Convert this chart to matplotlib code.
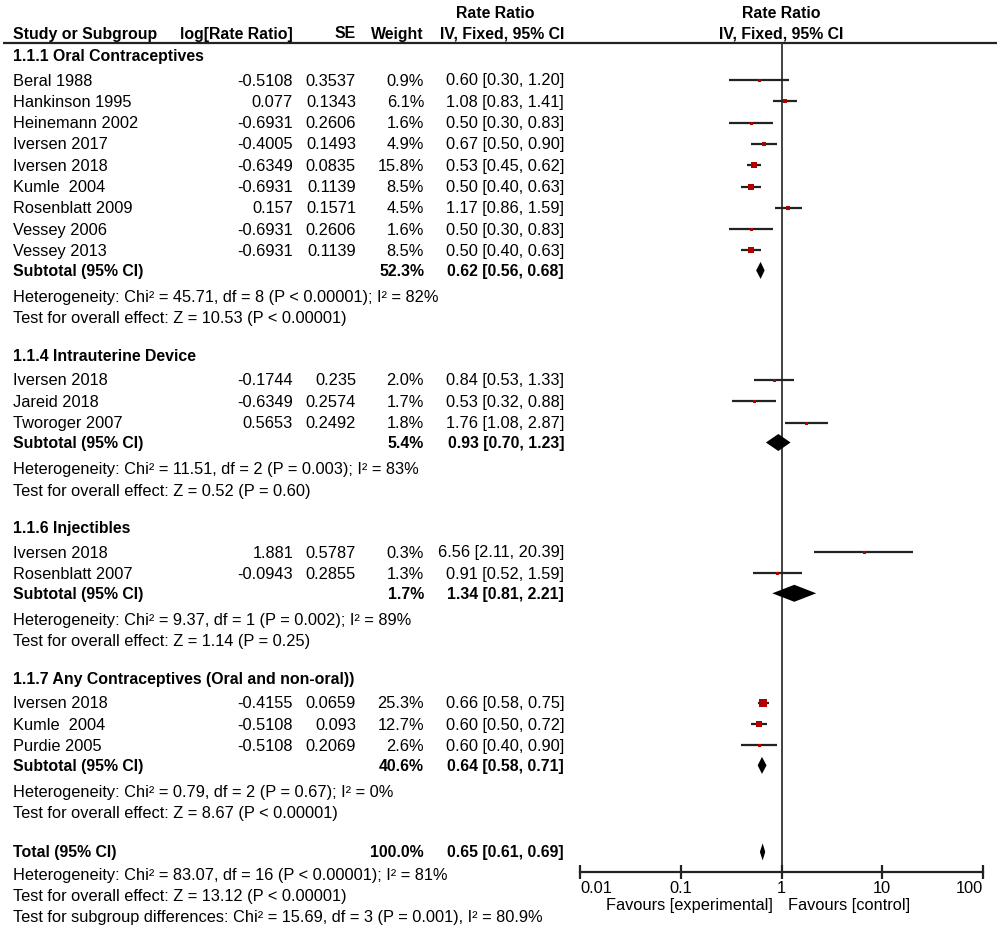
import matplotlib
matplotlib.use("Agg")
import matplotlib.pyplot as plt

plt.rcParams['font.family'] = ['Liberation Sans', 'DejaVu Sans']

# ---------------- data ----------------
group_names = ["1.1.1 Oral Contraceptives", "1.1.4 Intrauterine Device",
               "1.1.6 Injectibles", "1.1.7 Any Contraceptives (Oral and non-oral))"]

g1_studies = ["Beral 1988", "Hankinson 1995", "Heinemann 2002", "Iversen 2017", "Iversen 2018",
              "Kumle  2004", "Rosenblatt 2009", "Vessey 2006", "Vessey 2013"]
g1_logrr = [-0.5108, 0.077, -0.6931, -0.4005, -0.6349, -0.6931, 0.157, -0.6931, -0.6931]
g1_se = [0.3537, 0.1343, 0.2606, 0.1493, 0.0835, 0.1139, 0.1571, 0.2606, 0.1139]
g1_weight = [0.9, 6.1, 1.6, 4.9, 15.8, 8.5, 4.5, 1.6, 8.5]
g1_rr = [0.60, 1.08, 0.50, 0.67, 0.53, 0.50, 1.17, 0.50, 0.50]
g1_lo = [0.30, 0.83, 0.30, 0.50, 0.45, 0.40, 0.86, 0.30, 0.40]
g1_hi = [1.20, 1.41, 0.83, 0.90, 0.62, 0.63, 1.59, 0.83, 0.63]

g2_studies = ["Iversen 2018", "Jareid 2018", "Tworoger 2007"]
g2_logrr = [-0.1744, -0.6349, 0.5653]
g2_se = [0.235, 0.2574, 0.2492]
g2_weight = [2.0, 1.7, 1.8]
g2_rr = [0.84, 0.53, 1.76]
g2_lo = [0.53, 0.32, 1.08]
g2_hi = [1.33, 0.88, 2.87]

g3_studies = ["Iversen 2018", "Rosenblatt 2007"]
g3_logrr = [1.881, -0.0943]
g3_se = [0.5787, 0.2855]
g3_weight = [0.3, 1.3]
g3_rr = [6.56, 0.91]
g3_lo = [2.11, 0.52]
g3_hi = [20.39, 1.59]

g4_studies = ["Iversen 2018", "Kumle  2004", "Purdie 2005"]
g4_logrr = [-0.4155, -0.5108, -0.5108]
g4_se = [0.0659, 0.093, 0.2069]
g4_weight = [25.3, 12.7, 2.6]
g4_rr = [0.66, 0.60, 0.60]
g4_lo = [0.58, 0.50, 0.40]
g4_hi = [0.75, 0.72, 0.90]

sub_weight = [52.3, 5.4, 1.7, 40.6]
sub_rr = [0.62, 0.93, 1.34, 0.64]
sub_lo = [0.56, 0.70, 0.81, 0.58]
sub_hi = [0.68, 1.23, 2.21, 0.71]
sub_het = ["Heterogeneity: Chi\u00b2 = 45.71, df = 8 (P < 0.00001); I\u00b2 = 82%",
           "Heterogeneity: Chi\u00b2 = 11.51, df = 2 (P = 0.003); I\u00b2 = 83%",
           "Heterogeneity: Chi\u00b2 = 9.37, df = 1 (P = 0.002); I\u00b2 = 89%",
           "Heterogeneity: Chi\u00b2 = 0.79, df = 2 (P = 0.67); I\u00b2 = 0%"]
sub_test = ["Test for overall effect: Z = 10.53 (P < 0.00001)",
            "Test for overall effect: Z = 0.52 (P = 0.60)",
            "Test for overall effect: Z = 1.14 (P = 0.25)",
            "Test for overall effect: Z = 8.67 (P < 0.00001)"]

total_weight = 100.0
total_rr, total_lo, total_hi = 0.65, 0.61, 0.69
total_notes = ["Heterogeneity: Chi\u00b2 = 83.07, df = 16 (P < 0.00001); I\u00b2 = 81%",
               "Test for overall effect: Z = 13.12 (P < 0.00001)",
               "Test for subgroup differences: Chi\u00b2 = 15.69, df = 3 (P = 0.001), I\u00b2 = 80.9%"]

tick_values = [0.01, 0.1, 1, 10, 100]
tick_labels = ["0.01", "0.1", "1", "10", "100"]

groups = [
    (g1_studies, g1_logrr, g1_se, g1_weight, g1_rr, g1_lo, g1_hi),
    (g2_studies, g2_logrr, g2_se, g2_weight, g2_rr, g2_lo, g2_hi),
    (g3_studies, g3_logrr, g3_se, g3_weight, g3_rr, g3_lo, g3_hi),
    (g4_studies, g4_logrr, g4_se, g4_weight, g4_rr, g4_lo, g4_hi),
]

# ---------------- layout ----------------
W, H = 999, 928
fig = plt.figure(figsize=(W / 100, H / 100), dpi=100)
ax = fig.add_axes([0, 0, 1, 1])
ax.set_xlim(0, W)
ax.set_ylim(H, 0)
ax.axis('off')

AX_L, AX_R, AX_TOP, AX_BOT = 580, 983, 44, 873
fx = fig.add_axes([AX_L / W, (H - AX_BOT) / H, (AX_R - AX_L) / W, (AX_BOT - AX_TOP) / H])
fx.patch.set_alpha(0)
fx.set_xscale('log')
fx.set_xlim(0.01, 100)
fx.set_ylim(AX_BOT, AX_TOP)
for s in ['top', 'left', 'right']:
    fx.spines[s].set_visible(False)
fx.spines['bottom'].set_linewidth(1.6)
fx.spines['bottom'].set_color('#222222')
fx.set_yticks([])
fx.set_xticks(tick_values)
fx.set_xticklabels(tick_labels)
fx.minorticks_off()
fx.tick_params(axis='x', direction='inout', length=10, width=1.6, color='#222222',
               labelsize=11.8, pad=1)
tl = fx.get_xticklabels()
tl[0].set_horizontalalignment('left')
tl[-1].set_horizontalalignment('right')
fx.axvline(1, color='#333333', lw=1.3, zorder=1)

FS = 11.8
FSB = 11.4
X_NAME, X_LOG, X_SE, X_W, X_CI = 13, 293, 356, 424, 564
SQ_COLOR = '#b00000'
LINE_COLOR = '#222222'

def txt(x, y, s, ha='left', bold=False, size=None):
    if size is None:
        size = FSB if bold else FS
    ax.text(x, y, s, ha=ha, va='center', fontsize=size,
            fontweight='bold' if bold else 'normal', color='black')

# header
txt(495, 13, "Rate Ratio", ha='center', bold=True)
txt(X_NAME, 34, "Study or Subgroup", bold=True)
txt(X_LOG, 34, "log[Rate Ratio]", ha='right', bold=True)
txt(X_SE, 34, "SE", ha='right', bold=True)
txt(X_W, 34, "Weight", ha='right', bold=True)
txt(X_CI, 34, "IV, Fixed, 95% CI", ha='right', bold=True)
txt(781, 13, "Rate Ratio", ha='center', bold=True)
txt(781, 34, "IV, Fixed, 95% CI", ha='center', bold=True)
ax.plot([3, 997], [44, 44], color=LINE_COLOR, lw=1.6, solid_capstyle='butt')

def diamond(y, est, lo, hi, half=8.5):
    fx.fill([lo, est, hi, est], [y, y - half, y, y + half], color='black', lw=0, zorder=3)

def ci_text(rr, lo, hi):
    return f"{rr:.2f} [{lo:.2f}, {hi:.2f}]"

y = 57
for gi, (names, lrr, se, wt, rr, lo, hi) in enumerate(groups):
    txt(X_NAME, y, group_names[gi], bold=True)
    y += 24
    for k in range(len(names)):
        if k > 0:
            y += 21.3
        txt(X_NAME, y, names[k])
        txt(X_LOG, y, f"{lrr[k]:g}", ha='right')
        txt(X_SE, y, f"{se[k]:g}", ha='right')
        txt(X_W, y, f"{wt[k]:.1f}%", ha='right')
        txt(X_CI, y, ci_text(rr[k], lo[k], hi[k]), ha='right')
        fx.plot([lo[k], hi[k]], [y, y], color=LINE_COLOR, lw=1.6, zorder=2,
                solid_capstyle='butt')
        side = max(3.0, 1.75 * wt[k] ** 0.5)
        fx.plot([rr[k]], [y], marker='s', ms=side * 0.72, color=SQ_COLOR,
                mec=SQ_COLOR, mew=0, zorder=3)
    y += 20
    txt(X_NAME, y, "Subtotal (95% CI)", bold=True)
    txt(X_W, y, f"{sub_weight[gi]:.1f}%", ha='right', bold=True)
    txt(X_CI, y, ci_text(sub_rr[gi], sub_lo[gi], sub_hi[gi]), ha='right', bold=True)
    diamond(y, sub_rr[gi], sub_lo[gi], sub_hi[gi])
    y += 26
    txt(X_NAME, y, sub_het[gi])
    y += 21.5
    txt(X_NAME, y, sub_test[gi])
    y += 38

y = y + 1
txt(X_NAME, y, "Total (95% CI)", bold=True)
txt(X_W, y, f"{total_weight:.1f}%", ha='right', bold=True)
txt(X_CI, y, ci_text(total_rr, total_lo, total_hi), ha='right', bold=True)
diamond(y, total_rr, total_lo, total_hi)
y += 22.5
for note in total_notes:
    txt(X_NAME, y, note)
    y += 21

txt(773, 906, "Favours [experimental]", ha='right')
txt(788, 906, "Favours [control]", ha='left')

fig.savefig("out.png", dpi=100)
